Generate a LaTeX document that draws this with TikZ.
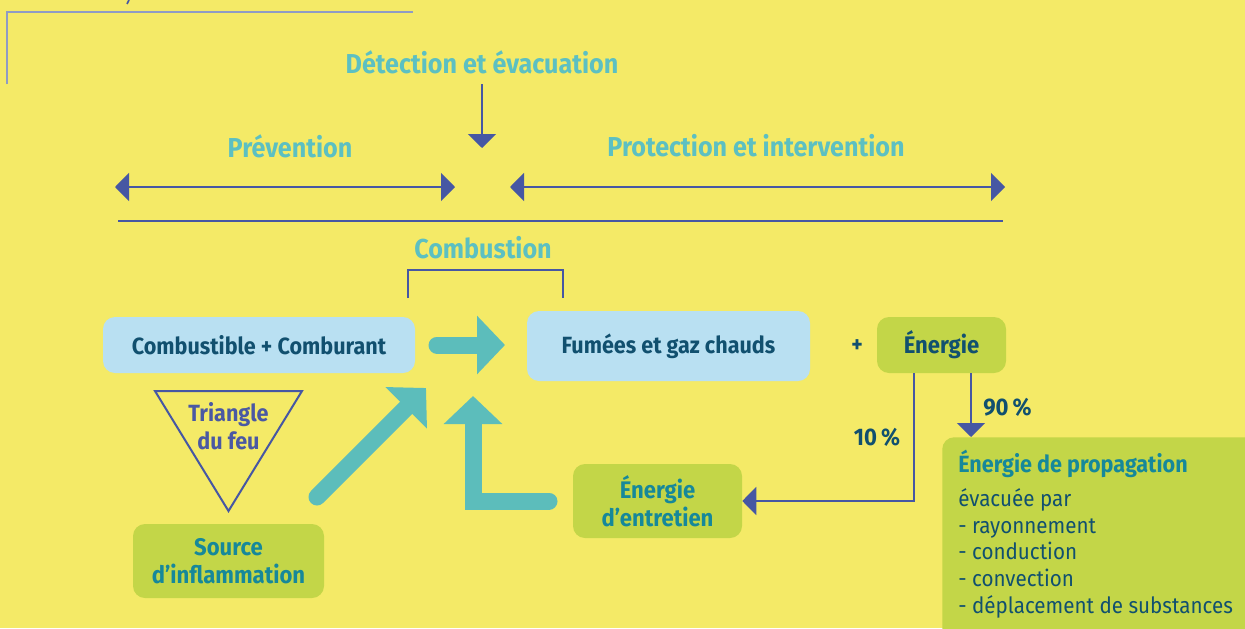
\documentclass[tikz,border=0pt]{standalone}
\usepackage{fontspec}
\setmainfont{Fira Sans}[FakeStretch=0.92]
\usetikzlibrary{arrows.meta}

\definecolor{bgyellow}{HTML}{F4EA67}
\definecolor{headteal}{HTML}{5CC0C2}
\definecolor{lineblue}{HTML}{4657A3}
\definecolor{framegray}{HTML}{8F9CC4}
\definecolor{flowteal}{HTML}{5CBDBB}
\definecolor{skyfill}{HTML}{B9E0F2}
\definecolor{limefill}{HTML}{C3D648}
\definecolor{navytext}{HTML}{11506F}
\definecolor{tealtext}{HTML}{16889A}
\definecolor{violettext}{HTML}{4A58A3}

\tikzset{
  heading/.style={text=headteal, font=\fontsize{20.5}{23}\selectfont\bfseries, inner sep=0pt},
  thinline/.style={draw=lineblue, line width=1.6pt},
  thinarrow/.style={thinline, -{Triangle[length=10.5pt,width=21pt]}},
  twoway/.style={thinline, {Triangle[length=10.5pt,width=21pt]}-{Triangle[length=10.5pt,width=21pt]}},
  flow/.style={draw=flowteal, line width=12.75pt, line cap=round, line join=miter,
    -{Triangle[length=21pt,width=42.75pt]}},
  skybox/.style={fill=skyfill, rounded corners=9pt, inner sep=0pt,
    text=navytext, font=\fontsize{17.6}{20}\selectfont\bfseries},
  limebox/.style={fill=limefill, rounded corners=9pt, inner sep=0pt, align=center,
    text=tealtext, font=\fontsize{18}{20}\selectfont\bfseries},
  pct/.style={text=navytext, font=\fontsize{18}{20}\selectfont\bfseries, inner sep=0pt},
  listline/.style={text=navytext, font=\fontsize{16.8}{19}\selectfont, inner sep=0pt, anchor=base west},
}

\begin{document}
\begin{tikzpicture}[x=0.75pt,y=-0.75pt]
\useasboundingbox (0,0) rectangle (1245,628);
\fill[bgyellow] (0,0) rectangle (1245,628);

% frame corner and stray tick at the top
\coordinate (fa) at (7,84);
\coordinate (fb) at (413,12);
\draw[framegray, line width=1.2pt] (fa) |- (fb);
\coordinate (ta) at (129,0);
\coordinate (tb) at (127,4);
\draw[lineblue, line width=1.2pt] (ta) -- (tb);

% headings and timeline
\node[heading] (det) at (482,62) {Détection et évacuation};
\coordinate (dstart) at (482,84);
\coordinate (dtip) at (482,148);
\draw[thinarrow] (dstart) -- (dtip);

\node[heading] (prev) at (290,146) {Prévention};
\node[heading] (prot) at (756,146) {Protection et intervention};

\coordinate (prevL) at (115,187);
\coordinate (prevR) at (455,187);
\coordinate (protL) at (510,187);
\coordinate (protR) at (1005,187);
\draw[twoway] (prevL) -- (prevR);
\draw[twoway] (protL) -- (protR);

\coordinate (ruleL) at (118,221);
\coordinate (ruleR) at (1003,221);
\draw[thinline] (ruleL) -- (ruleR);

\node[heading] (comb) at (483,248) {Combustion};
\coordinate (brL) at (408,298);
\coordinate (brR) at (563,298);
\coordinate (brT) at (563,270);
\draw[thinline, line width=1.4pt] (brL) |- (brT) -- (brR);

% boxes
\node[skybox, minimum width=234pt, minimum height=42pt] (fuel) at (259,345)
  {Combustible + Comburant};
\node[skybox, minimum width=212.25pt, minimum height=52.5pt] (smoke) at (668.5,346)
  {Fumées et gaz chauds};
\node[text=navytext, font=\fontsize{17.6}{20}\selectfont\bfseries, inner sep=0pt] (plus) at (857,346) {+};
\node[limebox, text=navytext, minimum width=96.75pt, minimum height=42pt] (energie) at (941.5,345)
  {Énergie};
\node[limebox, minimum width=126.75pt, minimum height=55.5pt] (entretien) at (657.5,501)
  {Énergie\\[1pt]d’entretien};
\node[limebox, minimum width=143.25pt, minimum height=55.5pt] (source) at (228.5,561)
  {Source\\[1pt]d’inflammation};
\node[fill=limefill, rounded corners=9pt, anchor=north west, inner sep=0pt,
  minimum width=240pt, minimum height=160pt] (prop) at (942,437) {};

\node[anchor=base west, inner sep=0pt, text=tealtext, font=\fontsize{17.6}{20}\selectfont\bfseries]
  (proptitle) at (958,472) {Énergie de propagation};
\node[listline] (l1) at (958,506) {évacuée par};
\node[listline] (l2) at (958,533) {- rayonnement};
\node[listline] (l3) at (958,559) {- conduction};
\node[listline] (l4) at (958,586) {- convection};
\node[listline] (l5) at (958,613) {- déplacement de substances};

% fire triangle
\coordinate (triA) at (155,391);
\coordinate (triB) at (302,391);
\coordinate (triC) at (228.5,511);
\draw[lineblue, line width=1.5pt, line join=miter] (triA) -- (triB) -- (triC) -- cycle;
\node[text=violettext, font=\fontsize{17.6}{21}\selectfont\bfseries, align=center, inner sep=0pt]
  (tritext) at (228.5,426) {Triangle\\du feu};

% thick flow arrows
\coordinate (fwS) at (437,345);
\coordinate (fwT) at (505,345);
\draw[flow] (fwS) -- (fwT);
\coordinate (igS) at (317,497);
\coordinate (igT) at (426,388);
\draw[flow] (igS) -- (igT);
\coordinate (rtS) at (549,501);
\coordinate (rtK) at (473,501);
\coordinate (rtT) at (473,396);
\draw[flow] (rtS) -- (rtK) -- (rtT);

% energy split
\coordinate (c10) at (914,0);
\coordinate (c90) at (971,0);
\draw[thinarrow] (energie.south -| c10) |- (entretien.east);
\draw[thinarrow] (energie.south -| c90) -- (prop.north -| c90);
\node[pct] (p10) at (877,437) {10\,\%};
\node[pct, anchor=west] (p90) at (983,407) {90\,\%};
\end{tikzpicture}
\end{document}
